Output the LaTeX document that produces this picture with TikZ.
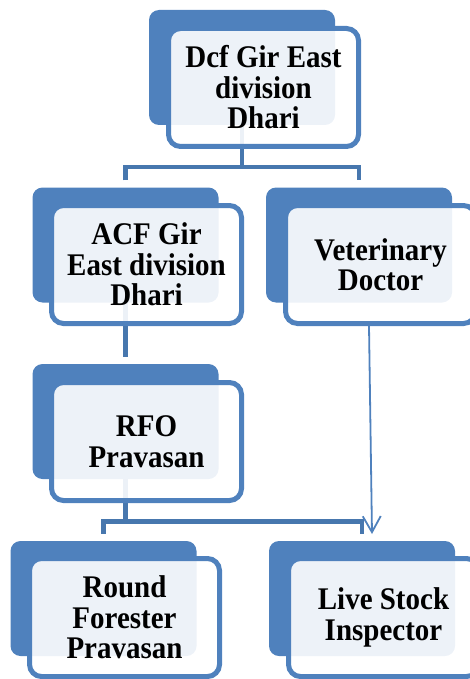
\documentclass[tikz,border=0pt]{standalone}
\usepackage{fontspec}
\setmainfont{Liberation Serif}
\newfontfamily\boxfont[FakeStretch=0.92]{Liberation Serif}
\usetikzlibrary{arrows.meta,calc}
\definecolor{boxblue}{HTML}{4F81BD}
\definecolor{lineblue}{HTML}{4777AE}
\begin{document}
\begin{tikzpicture}[x=1pt,y=-1pt,
  backbox/.style={rectangle,rounded corners=10pt,fill=boxblue,draw=none,
    minimum width=186pt,minimum height=115pt,inner sep=0pt},
  frontbox/.style={rectangle,rounded corners=12pt,draw=boxblue,line width=5pt,
    fill=white,fill opacity=0.9,draw opacity=1,text opacity=1,
    minimum width=190pt,minimum height=118pt,inner sep=0pt,align=center,
    font=\boxfont\bfseries\fontsize{31.5}{30.5}\selectfont},
  conn/.style={draw=lineblue,line width=4.5pt},
  arr/.style={draw=boxblue,line width=1.8pt,-{Straight Barb[length=16pt,width=18pt,line width=1.8pt]}}
]
\useasboundingbox (0,0) rectangle (470,679);
% invisible back-box anchors for the connectors
\node[backbox,opacity=0] (topb) at (242,67.5) {};
\node[backbox,opacity=0] (acfb) at (125.5,245) {};
\node[backbox,opacity=0] (vetb) at (359,245) {};
\node[backbox,opacity=0] (rfob) at (125.5,421.5) {};
\node[backbox,opacity=0] (rndb) at (103.5,598.5) {};
\node[backbox,opacity=0] (lsib) at (362,598.5) {};
% junction coordinates
\coordinate (bar1) at (0,167);
\coordinate (bar2) at (0,521.5);
\coordinate (acfin) at ([yshift=7pt]acfb.north);
\coordinate (vetin) at ([yshift=7pt]vetb.north);
\coordinate (rfoin) at ([yshift=7pt]rfob.north);
\coordinate (rndin) at ([yshift=7pt]rndb.north);
\coordinate (lsiin) at ([yshift=7pt]lsib.north);
% connectors
\draw[conn] (topb.south) -- (topb.south |- bar1);
\draw[conn] (acfin) -- (acfin |- bar1) -- (vetin |- bar1) -- (vetin);
\draw[conn] (acfb.south) -- (rfoin);
\draw[conn] (rfob.south) -- (rfob.south |- bar2);
\draw[conn] (rndin) -- (rndin |- bar2) -- (lsiin |- bar2) -- (lsiin);
% visible back boxes
\foreach \p in {(242,67.5),(125.5,245),(359,245),(125.5,421.5),(103.5,598.5),(362,598.5)}
  \node[backbox] at \p {};
% front boxes
\node[frontbox] (topf) at (263.5,87.5) {Dcf Gir East\\division\\Dhari};
\node[frontbox] (acff) at (146.5,264.5) {ACF Gir\\East division\\Dhari};
\node[frontbox] (vetf) at (380.5,264.5) {Veterinary\\Doctor};
\node[frontbox] (rfof) at (146.5,441.5) {RFO\\Pravasan};
\node[frontbox] (rndf) at (124.5,617.5) {Round\\Forester\\Pravasan};
\node[frontbox] (lsif) at (383.5,617.5) {Live Stock\\Inspector};
% arrow
\coordinate (tip) at (372,534);
\draw[arr] ([xshift=-11.5pt]vetf.south) -- (tip);
\end{tikzpicture}
\end{document}
